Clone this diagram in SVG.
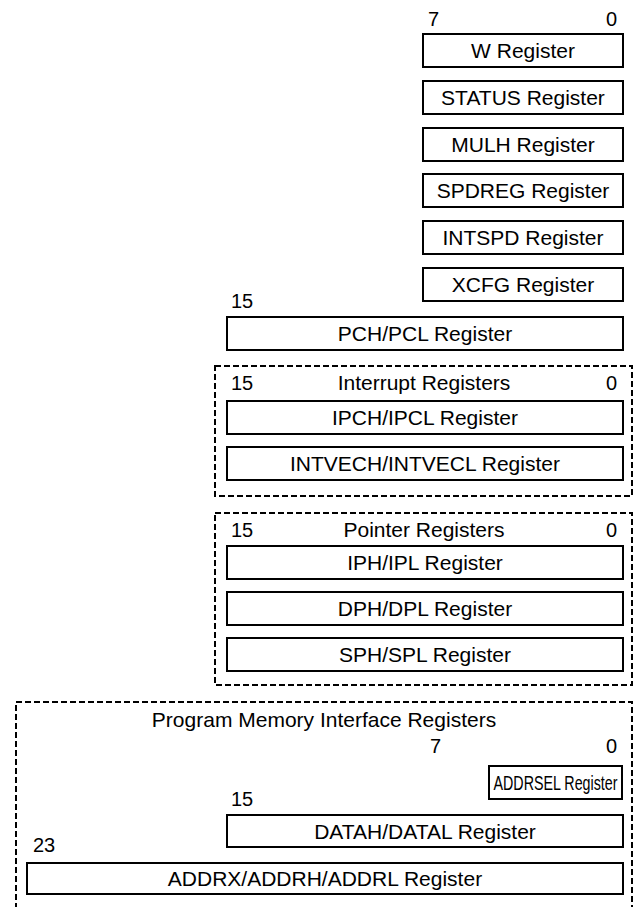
<svg xmlns="http://www.w3.org/2000/svg" width="639" height="907" viewBox="0 0 639 907">
  <style>
    text { font-family: "Liberation Sans", Arial, sans-serif; font-size: 21px; fill: #000; }
    .n { font-size: 20px; }
    .c { text-anchor: middle; }
    .e { text-anchor: end; }
    .reg rect { fill: #fff; stroke: #000; stroke-width: 2; }
    .grp { fill: none; stroke: #000; stroke-width: 2; stroke-dasharray: 6 3; }
  </style>
  <rect width="639" height="907" fill="#fff"/>

  <!-- 8-bit core registers -->
  <text class="n" x="428" y="26">7</text>
  <text class="n e" x="617" y="26">0</text>
  <g id="w" class="reg"><rect x="423" y="34" width="200" height="33"/><text class="c" x="523" y="58">W Register</text></g>
  <g id="status" class="reg"><rect x="423" y="81" width="200" height="33"/><text class="c" x="523" y="105">STATUS Register</text></g>
  <g id="mulh" class="reg"><rect x="423" y="128" width="200" height="33"/><text class="c" x="523" y="152">MULH Register</text></g>
  <g id="spdreg" class="reg"><rect x="423" y="174" width="200" height="33"/><text class="c" x="523" y="198">SPDREG Register</text></g>
  <g id="intspd" class="reg"><rect x="423" y="221" width="200" height="33"/><text class="c" x="523" y="245">INTSPD Register</text></g>
  <g id="xcfg" class="reg"><rect x="423" y="268" width="200" height="33"/><text class="c" x="523" y="292">XCFG Register</text></g>

  <!-- program counter -->
  <text class="n" x="231" y="308">15</text>
  <g id="pc" class="reg"><rect x="227" y="317" width="396" height="33"/><text class="c" x="425" y="341">PCH/PCL Register</text></g>

  <!-- interrupt registers -->
  <g id="interrupt-group">
    <rect class="grp" x="215" y="366" width="417" height="130"/>
    <text class="n" x="231" y="390">15</text>
    <text class="c" x="424" y="390">Interrupt Registers</text>
    <text class="n e" x="617" y="390">0</text>
  </g>
  <g id="ipc" class="reg"><rect x="227" y="401" width="396" height="33"/><text class="c" x="425" y="425">IPCH/IPCL Register</text></g>
  <g id="intvec" class="reg"><rect x="227" y="447" width="396" height="33"/><text class="c" x="425" y="471">INTVECH/INTVECL Register</text></g>

  <!-- pointer registers -->
  <g id="pointer-group">
    <rect class="grp" x="215" y="513" width="417" height="172"/>
    <text class="n" x="231" y="537">15</text>
    <text class="c" x="424" y="537">Pointer Registers</text>
    <text class="n e" x="617" y="537">0</text>
  </g>
  <g id="ip" class="reg"><rect x="227" y="546" width="396" height="33"/><text class="c" x="425" y="570">IPH/IPL Register</text></g>
  <g id="dp" class="reg"><rect x="227" y="592" width="396" height="33"/><text class="c" x="425" y="616">DPH/DPL Register</text></g>
  <g id="sp" class="reg"><rect x="227" y="638" width="396" height="33"/><text class="c" x="425" y="662">SPH/SPL Register</text></g>

  <!-- program memory interface registers -->
  <g id="pmi-group">
    <rect class="grp" x="16" y="702" width="616" height="230"/>
    <text class="c" x="324" y="727">Program Memory Interface Registers</text>
    <text class="n" x="430" y="753">7</text>
    <text class="n e" x="617" y="753">0</text>
    <text class="n" x="231" y="806">15</text>
    <text class="n" x="33" y="852">23</text>
  </g>
  <!-- narrow box: label squeezed horizontally to fit -->
  <g id="addrsel" class="reg"><rect x="489" y="766" width="133" height="33"/><text class="c" transform="translate(555.5 790) scale(0.68 1)">ADDRSEL Register</text></g>
  <g id="data" class="reg"><rect x="227" y="815" width="396" height="32"/><text class="c" x="425" y="838.5">DATAH/DATAL Register</text></g>
  <g id="addr" class="reg"><rect x="27" y="863" width="596" height="31"/><text class="c" x="325" y="886">ADDRX/ADDRH/ADDRL Register</text></g>
</svg>
